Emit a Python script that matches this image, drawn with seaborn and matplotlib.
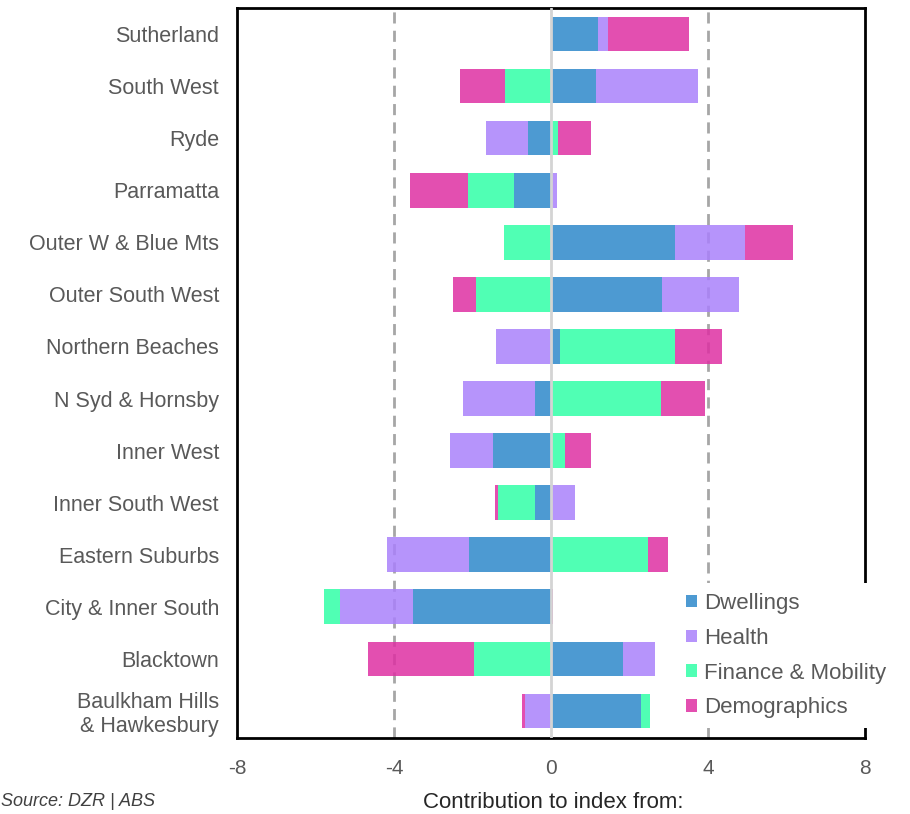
import matplotlib
matplotlib.use("Agg")
import matplotlib.pyplot as plt
from matplotlib.patches import Patch
import numpy as np
import seaborn as sns

# Regions, top to bottom
regions = [
    "Sutherland", "South West", "Ryde", "Parramatta", "Outer W & Blue Mts",
    "Outer South West", "Northern Beaches", "N Syd & Hornsby", "Inner West",
    "Inner South West", "Eastern Suburbs", "City & Inner South", "Blacktown",
    "Baulkham Hills\n& Hawkesbury",
]

# Contribution of each component to the index
dwellings = [1.21, 1.15, -0.58, -0.94, 3.15, 2.83, 0.24, -0.42, -1.47, -0.40, -2.10, -3.52, 1.84, 2.30]
health = [0.23, 2.60, -1.08, 0.16, 1.79, 1.96, -1.39, -1.83, -1.11, 0.61, -2.08, -1.86, 0.81, -0.66]
finance = [0.01, -1.18, 0.19, -1.17, -1.19, -1.90, 2.93, 2.80, 0.35, -0.96, 2.46, -0.40, -1.97, 0.21]
demographics = [2.07, -1.14, 0.83, -1.48, 1.22, -0.59, 1.18, 1.13, 0.66, -0.07, 0.51, 0.05, -2.68, -0.09]

components = ["Dwellings", "Health", "Finance & Mobility", "Demographics"]
series = [dwellings, health, finance, demographics]
palette = ["#2E89CA", "#AA81FB", "#31FFA7", "#DE30A3"]
x_ticks = [-8, -4, 0, 4, 8]

sns.set_theme(style="white")
plt.rcParams["font.family"] = ["Liberation Sans", "DejaVu Sans"]

fig = plt.figure(figsize=(9.1, 8.14), dpi=100)
ax = fig.add_axes([237 / 910, 76 / 814, 628 / 910, 730 / 814])

y = np.arange(len(regions))
pos_base = np.zeros(len(regions))
neg_base = np.zeros(len(regions))
for name, vals, col in zip(components, series, palette):
    vals = np.asarray(vals, dtype=float)
    left = np.where(vals >= 0, pos_base, neg_base)
    ax.barh(y, vals, left=left, height=0.665, color=col, alpha=0.85,
            edgecolor="none", zorder=2, label=name)
    pos_base += np.where(vals >= 0, vals, 0)
    neg_base += np.where(vals < 0, vals, 0)

# Reference lines
for xv in (-4, 4):
    ax.axvline(xv, color="#a6a6a6", lw=2, ls=(0, (4, 2.6)), zorder=1)
ax.axvline(0, color="#d4d4d4", lw=2, zorder=3)

ax.set_xlim(-8, 8)
ax.set_ylim(13.52, -0.5)
ax.set_xticks(x_ticks)
ax.set_xticklabels([str(t) for t in x_ticks])
ax.set_yticks(y)
ax.set_yticklabels(regions, linespacing=1.15)
ax.tick_params(axis="x", length=0, pad=15, labelsize=15, labelcolor="#595959")
ax.tick_params(axis="y", length=0, pad=13, labelsize=15.5, labelcolor="#595959")
ax.grid(False)

for sp in ax.spines.values():
    sp.set_color("black")
    sp.set_linewidth(2)
    sp.set_visible(True)

handles = [Patch(facecolor=c, alpha=0.85, edgecolor="none") for c in palette]
leg = ax.legend(handles, components, loc="upper left",
                bbox_to_anchor=(676 / 910, 1 - 583 / 814), bbox_transform=fig.transFigure,
                frameon=True, facecolor="white", edgecolor="none", framealpha=1,
                fontsize=16, handlelength=0.5, handleheight=0.5, handletextpad=0.3,
                labelspacing=0.62, borderpad=0.45, borderaxespad=0)
for t in leg.get_texts():
    t.set_color("#595959")
leg.set_zorder(10)

fig.text(1 / 910, 1 - 802 / 814, "Source: DZR | ABS", fontsize=13, style="italic",
         color="#404040", ha="left", va="center")
fig.text(553 / 910, 1 - 802 / 814, "Contribution to index from:", fontsize=16,
         color="#262626", ha="center", va="center")

fig.savefig("out.png", dpi=100, facecolor="white")
